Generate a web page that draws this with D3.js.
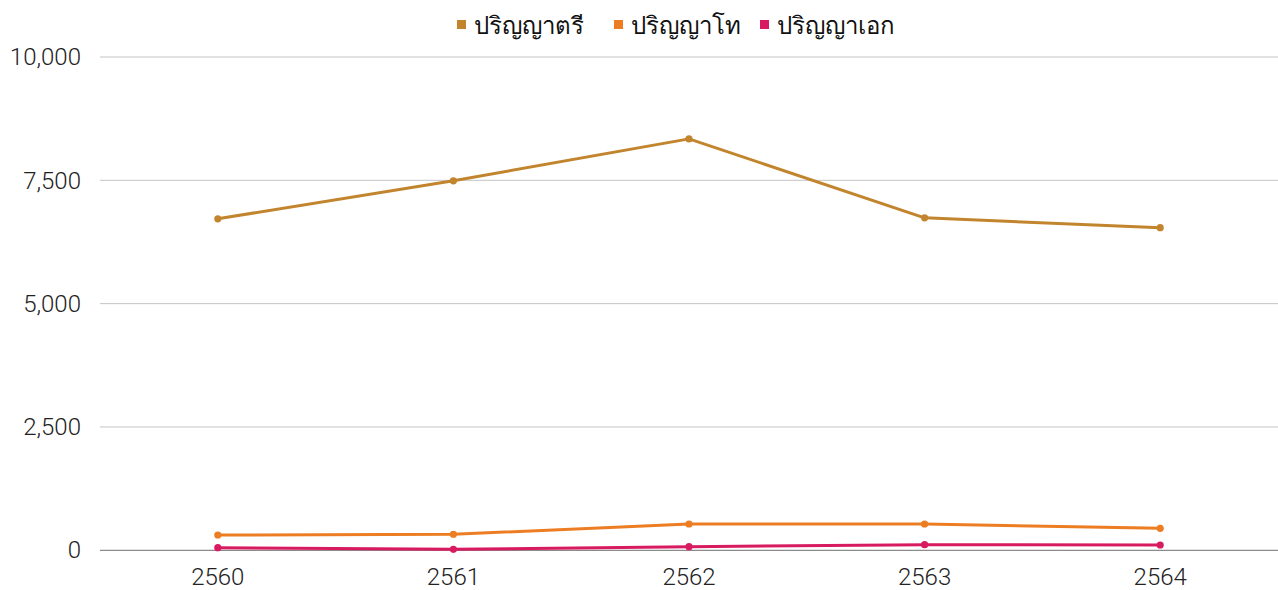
<!DOCTYPE html>
<html>
<head>
<meta charset="utf-8">
<script src="https://cdn.jsdelivr.net/npm/d3@7"></script>
<style>
  html, body { margin: 0; padding: 0; background: #fff; }
  svg { display: block; font-family: "Noto Sans", "Open Sans", sans-serif; }
</style>
</head>
<body>
<svg id="chart" width="1278" height="590"></svg>
<script>
// Graduates per academic year, by degree level
const years = ["2560", "2561", "2562", "2563", "2564"];
const bachelor = [6720, 7490, 8340, 6740, 6540];
const master = [310, 325, 533, 533, 446];
const doctorate = [53, 20, 73, 114, 107];
const seriesNames = ["ปริญญาตรี", "ปริญญาโท", "ปริญญาเอก"];
const seriesColors = ["#C2852E", "#EC7D22", "#D81B60"];
const yTicks = [0, 2500, 5000, 7500, 10000];

const series = [bachelor, master, doctorate].map((vals, i) => ({
  name: seriesNames[i], color: seriesColors[i], values: vals
}));

const svg = d3.select("#chart");
const margin = { left: 100, right: 0 };
const W = 1278;
const tickFont = "Roboto, 'Noto Sans', sans-serif";

const x = d3.scaleBand().domain(years).range([margin.left, W - margin.right]);
const y = d3.scaleLinear().domain([0, 10000]).range([550.3, 57]);

// gridlines
svg.append("g")
  .selectAll("line")
  .data(yTicks.filter(d => d !== 0))
  .join("line")
  .attr("x1", margin.left).attr("x2", W)
  .attr("y1", d => y(d)).attr("y2", d => y(d))
  .attr("stroke", "#c4c4c4").attr("stroke-width", 1);

// baseline
svg.append("line")
  .attr("x1", margin.left).attr("x2", W)
  .attr("y1", y(0)).attr("y2", y(0))
  .attr("stroke", "#6e6e6e").attr("stroke-width", 1);

// y axis labels
const yAxis = d3.axisLeft(y).tickValues(yTicks).tickSize(0).tickPadding(0)
  .tickFormat(d3.format(","));
const gy = svg.append("g").attr("transform", `translate(${81},0)`).call(yAxis);
gy.select(".domain").remove();
gy.selectAll("text")
  .attr("font-size", 24).attr("font-weight", 300).attr("fill", "#222")
  .attr("font-family", tickFont);

// x axis labels
const xAxis = d3.axisBottom(x).tickSize(0).tickPadding(0);
const gx = svg.append("g").attr("transform", `translate(0,${568})`).call(xAxis);
gx.select(".domain").remove();
gx.selectAll("text")
  .attr("font-size", 24).attr("font-weight", 300).attr("fill", "#222")
  .attr("font-family", tickFont);

const cx = d => x(d) + x.bandwidth() / 2;
const line = d3.line().x((d, i) => cx(years[i])).y(d => y(d));

const g = svg.append("g");
series.forEach(s => {
  g.append("path")
    .attr("d", line(s.values))
    .attr("fill", "none")
    .attr("stroke", s.color)
    .attr("stroke-width", 3)
    .attr("stroke-linejoin", "round");
  g.selectAll(null)
    .data(s.values)
    .join("circle")
    .attr("cx", (d, i) => cx(years[i]))
    .attr("cy", d => y(d))
    .attr("r", 3.6)
    .attr("fill", s.color);
});

// legend
const legendX = [457, 614, 760];
const legend = svg.append("g");
series.forEach((s, i) => {
  legend.append("rect")
    .attr("x", legendX[i]).attr("y", 20)
    .attr("width", 9).attr("height", 9)
    .attr("fill", s.color);
  legend.append("text")
    .attr("x", legendX[i] + 17).attr("y", 28)
    .attr("dominant-baseline", "middle")
    .attr("font-size", 24).attr("fill", "#111")
    .text(s.name);
});
</script>
</body>
</html>
